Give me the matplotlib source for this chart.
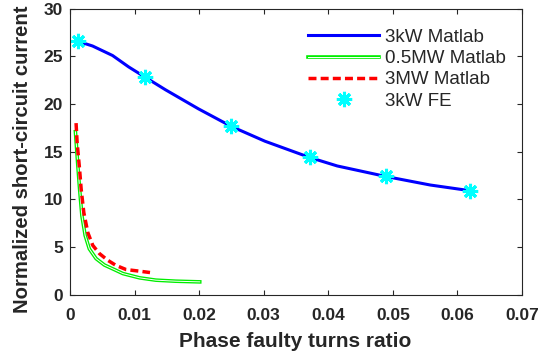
import matplotlib
matplotlib.use("Agg")
import matplotlib.pyplot as plt
import matplotlib.patheffects as pe

plt.rcParams['font.family'] = ['Liberation Sans', 'DejaVu Sans']

# 3kW Matlab curve
kw3_x = [0.00118, 0.0035, 0.0066, 0.0091, 0.0117, 0.0148, 0.0199, 0.025, 0.0302,
         0.0371, 0.0414, 0.0489, 0.0558, 0.062]
kw3_y = [26.6, 26.1, 25.1, 23.9, 22.8, 21.5, 19.5, 17.65, 16.1,
         14.4, 13.5, 12.4, 11.5, 10.9]

# 0.5MW Matlab curve
mw05_x = [0.00085, 0.00123, 0.0015, 0.00185, 0.00236, 0.003, 0.00405, 0.00534,
          0.0071, 0.0082, 0.0108, 0.0133, 0.0164, 0.0201]
mw05_y = [17.1, 13.5, 11.06, 8.3, 6.2, 4.8, 3.77, 3.1,
          2.55, 2.2, 1.75, 1.51, 1.4, 1.33]

# 3MW Matlab curve
mw3_x = [0.00095, 0.00112, 0.0015, 0.00174, 0.00215, 0.00277, 0.00354, 0.00457,
         0.00585, 0.0071, 0.0087, 0.0108, 0.0124]
mw3_y = [18.0, 15.9, 13.1, 11.06, 8.6, 6.5, 5.16, 4.3,
         3.6, 3.07, 2.62, 2.45, 2.31]

# 3kW FE points
fe_x = [0.00118, 0.0117, 0.025, 0.0371, 0.0489, 0.062]
fe_y = [26.6, 22.8, 17.65, 14.4, 12.4, 10.9]

xticks = [0, 0.01, 0.02, 0.03, 0.04, 0.05, 0.06, 0.07]
xticklabels = ['0', '0.01', '0.02', '0.03', '0.04', '0.05', '0.06', '0.07']
yticks = [0, 5, 10, 15, 20, 25, 30]

fig = plt.figure(figsize=(5.55, 3.54), dpi=100)
ax = fig.add_axes([0.126, 0.168, 0.8145, 0.807])

ax.plot(kw3_x, kw3_y, color='#0000ff', lw=2.2, label='3kW Matlab')
ax.plot(mw05_x, mw05_y, color='white', lw=0.7, label='0.5MW Matlab',
        path_effects=[pe.Stroke(linewidth=2.6, foreground='#00ee00'), pe.Normal()])
ax.plot(mw3_x, mw3_y, color='#ff0000', lw=2.5, dashes=(2.3, 1.2), label='3MW Matlab')
ax.plot(fe_x, fe_y, linestyle='none', marker=(8, 2, 0), markersize=11,
        markeredgewidth=2.2, color='#00ffff', markeredgecolor='#00ffff', label='3kW FE')

ax.set_xlim(0, 0.07)
ax.set_ylim(0, 30)
ax.set_xticks(xticks)
ax.set_xticklabels(xticklabels)
ax.set_yticks(yticks)
ax.tick_params(direction='in', top=True, right=True, length=3.5, width=0.8,
               colors='#262626', labelsize=12.5)
ax.tick_params(axis='x', pad=10)
ax.tick_params(axis='y', pad=5)
for lab in ax.get_xticklabels() + ax.get_yticklabels():
    lab.set_fontweight('bold')
for sp in ax.spines.values():
    sp.set_color('#262626')
    sp.set_linewidth(0.8)

fig.text(295 / 555, 1 - 346.7 / 354, 'Phase faulty turns ratio', fontsize=15,
         fontweight='bold', color='#262626', ha='center', va='baseline')
fig.text(23 / 555, 1 - 159 / 354, 'Normalized short-circuit current', fontsize=14.6,
         fontweight='bold', color='#262626', ha='center', va='center', rotation=90)

leg = ax.legend(loc='upper left', bbox_to_anchor=(0.527, 0.93), frameon=False,
                fontsize=13.5, handlelength=3.8, handletextpad=0.32, borderpad=0,
                borderaxespad=0, labelspacing=0.22)
for t in leg.get_texts():
    t.set_color('#262626')

fig.savefig('out.png', dpi=100)
